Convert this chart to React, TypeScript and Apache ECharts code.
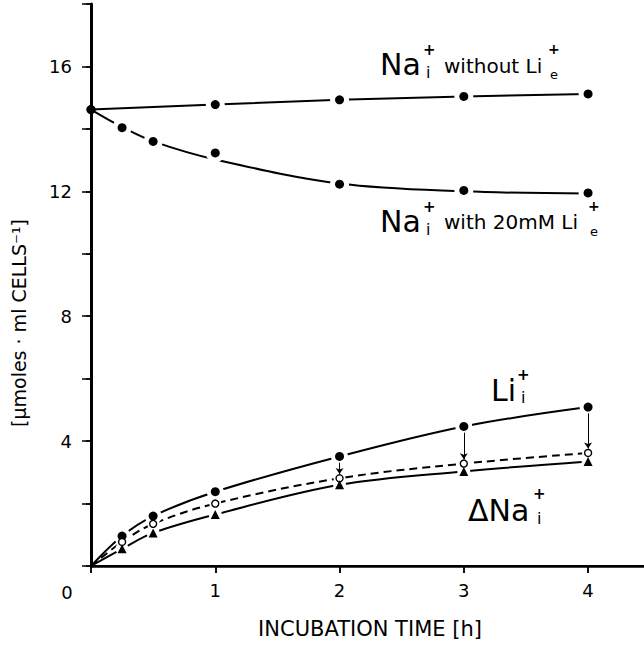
import React, { useEffect, useRef } from "react";
import * as echarts from "echarts";

// ---- data ----
// measured points
const timeNa = [0, 1, 2, 3, 4];
const naWithout = [14.62, 14.78, 14.93, 15.04, 15.12];
const time = [0, 0.25, 0.5, 1, 2, 3, 4];
const naWith = [14.62, 14.04, 13.6, 13.23, 12.23, 12.03, 11.95];
const liIn = [0, 0.96, 1.6, 2.38, 3.51, 4.47, 5.09];
const openCircles = [0, 0.77, 1.35, 2.0, 2.81, 3.28, 3.62];
const deltaNa = [0, 0.55, 1.06, 1.65, 2.6, 3.03, 3.35];
// drawn fit curve for Na+ with Li+
const naWithCurve = [14.62, 14.06, 13.6, 13.02, 12.25, 12.0, 11.93];
const arrowTimes = [2, 3, 4];

const xTickValues = [0, 1, 2, 3, 4];
const xLabelValues = [1, 2, 3, 4];
const yTickValues = [0, 2, 4, 6, 8, 10, 12, 14, 16, 18];
const yLabelValues = [4, 8, 12, 16];

const FONT = "'DejaVu Sans', 'Liberation Sans', sans-serif";
const INK = "#000";

type Pt = [number, number];
const pairs = (xs: number[], ys: number[]): Pt[] => xs.map((x, i) => [x, ys[i]]);

function curve(
  name: string,
  linePts: Pt[],
  pts: Pt[],
  opts: { dashed?: boolean; smooth?: number | boolean; symbol: string; size: number; fill: string; halo: number; markerAt0: boolean }
): any[] {
  const out: any[] = [];
  out.push({
    name: name + "-line",
    type: "line",
    data: linePts,
    smooth: opts.smooth ?? 0.35,
    symbol: "none",
    clip: false,
    z: 2,
    lineStyle: { color: INK, width: 2, type: opts.dashed ? [8, 5] : "solid" },
  });
  out.push({
    name: name + "-halo",
    type: "scatter",
    data: pts.filter((p) => p[0] > 0),
    symbol: "circle",
    symbolSize: opts.halo,
    clip: false,
    z: 3,
    itemStyle: { color: "#ffffff", opacity: 1 },
    emphasis: { disabled: true },
    silent: true,
  });
  out.push({
    name: name,
    type: "scatter",
    data: pts.filter((p) => opts.markerAt0 || p[0] > 0),
    symbol: opts.symbol,
    symbolSize: opts.size,
    clip: false,
    z: 4,
    emphasis: { disabled: true },
    itemStyle: {
      color: opts.fill,
      opacity: 1,
      borderColor: INK,
      borderWidth: opts.fill === "#fff" ? 1.4 : 0,
    },
  });
  return out;
}

function txt(x: number, y: number, text: string, size: number, extra: any = {}) {
  return {
    type: "text",
    x,
    y,
    silent: true,
    z: 10,
    style: {
      text,
      fontSize: size,
      fontFamily: FONT,
      fill: INK,
      align: "left",
      verticalAlign: "middle",
      ...extra,
    },
  };
}

export default function App() {
  const ref = useRef<HTMLDivElement>(null);

  useEffect(() => {
    if (!ref.current) return;
    const chart = echarts.init(ref.current, undefined, { renderer: "svg" });

    const arrowData = arrowTimes.map((t) => {
      const i = time.indexOf(t);
      return [{ coord: [t, liIn[i] - 0.2] }, { coord: [t, openCircles[i] + 0.14] }];
    });

    const series: any[] = [
      ...curve("Na without Li", pairs(timeNa, naWithout), pairs(timeNa, naWithout), {
        smooth: false, symbol: "circle", size: 9, fill: INK, halo: 19, markerAt0: true,
      }),
      ...curve("Na with 20mM Li", pairs(time, naWithCurve), pairs(time, naWith), {
        symbol: "circle", size: 9, fill: INK, halo: 19, markerAt0: true,
      }),
      ...curve("Li", pairs(time, liIn), pairs(time, liIn), {
        symbol: "circle", size: 9, fill: INK, halo: 17, markerAt0: false,
      }),
      ...curve("open", pairs(time, openCircles), pairs(time, openCircles), {
        dashed: true, symbol: "circle", size: 7, fill: "#fff", halo: 12, markerAt0: false,
      }),
      ...curve("Delta Na", pairs(time, deltaNa), pairs(time, deltaNa), {
        symbol: "triangle", size: 9, fill: INK, halo: 13, markerAt0: false,
      }),
    ];
    series.push({
      name: "arrows",
      type: "line",
      data: [],
      z: 5,
      markLine: {
        silent: true,
        animation: false,
        symbol: ["none", "arrow"],
        symbolSize: 6,
        label: { show: false },
        lineStyle: { color: INK, width: 1, type: "solid" },
        data: arrowData,
      },
    });

    const option: any = {
      animation: false,
      backgroundColor: "#fff",
      grid: { left: 91, top: 4, width: 554, height: 562, containLabel: false },
      xAxis: [
        {
          type: "value",
          position: "bottom",
          min: 0,
          max: 4.45,
          interval: 1,
          splitLine: { show: false },
          axisLine: { show: true, lineStyle: { color: INK, width: 2.5 } },
          axisTick: { show: true, inside: false, length: 7, lineStyle: { color: INK, width: 1.5 }, customValues: xTickValues },
          axisLabel: { show: true, customValues: xLabelValues, margin: 15, fontSize: 18, color: INK, fontFamily: FONT },
        },
        {
          type: "value",
          position: "top",
          min: 0,
          max: 4.45,
          interval: 1,
          splitLine: { show: false },
          axisLine: { show: true, lineStyle: { color: INK, width: 2 } },
          axisTick: { show: true, inside: true, length: 7, lineStyle: { color: INK, width: 1.5 }, customValues: xTickValues },
          axisLabel: { show: false },
        },
      ],
      yAxis: [
        {
          type: "value",
          position: "left",
          min: 0,
          max: 18,
          interval: 2,
          splitLine: { show: false },
          axisLine: { show: true, lineStyle: { color: INK, width: 3 } },
          axisTick: { show: true, inside: false, length: 9, lineStyle: { color: INK, width: 1.5 }, customValues: yTickValues },
          axisLabel: { show: true, customValues: yLabelValues, margin: 19, fontSize: 18, color: INK, fontFamily: FONT },
        },
        {
          type: "value",
          position: "right",
          min: 0,
          max: 18,
          interval: 2,
          splitLine: { show: false },
          axisLine: { show: false },
          axisTick: { show: true, inside: true, length: 5, lineStyle: { color: INK, width: 1.5 }, customValues: yTickValues },
          axisLabel: { show: false },
        },
      ],
      series,
      graphic: [
        txt(67, 592, "0", 18, { align: "center" }),
        txt(370, 629, "INCUBATION TIME [h]", 21, { align: "center" }),
        {
          type: "text",
          x: 19,
          y: 323,
          rotation: Math.PI / 2,
          silent: true,
          style: {
            text: "[μmoles · ml CELLS⁻¹]",
            fontSize: 19,
            fontFamily: FONT,
            fill: INK,
            align: "center",
            verticalAlign: "middle",
          },
        },
        // Na+i without Li+e
        txt(380, 64, "Na", 30),
        txt(423, 50, "+", 15, { fontWeight: "bold" }),
        txt(426, 72, "i", 16),
        txt(444, 66, "without Li", 20),
        txt(548, 49, "+", 14, { fontWeight: "bold" }),
        txt(550, 74, "e", 13),
        // Na+i with 20mM Li+e
        txt(380, 221, "Na", 30),
        txt(423, 207, "+", 15, { fontWeight: "bold" }),
        txt(426, 229, "i", 16),
        txt(444, 222, "with 20mM Li", 20),
        txt(588, 206, "+", 14, { fontWeight: "bold" }),
        txt(590, 231, "e", 13),
        // Li+i
        txt(491, 390, "Li", 30),
        txt(517, 375, "+", 15, { fontWeight: "bold" }),
        txt(521, 397, "i", 16),
        // Delta Na+i
        txt(468, 510, "ΔNa", 30),
        txt(533, 494, "+", 15, { fontWeight: "bold" }),
        txt(537, 518, "i", 16),
      ],
    };

    chart.setOption(option);
    return () => chart.dispose();
  }, []);

  return (
    <div
      ref={ref}
      style={{ position: "absolute", left: 0, top: 0, width: 644, height: 646, background: "#fff" }}
    />
  );
}
